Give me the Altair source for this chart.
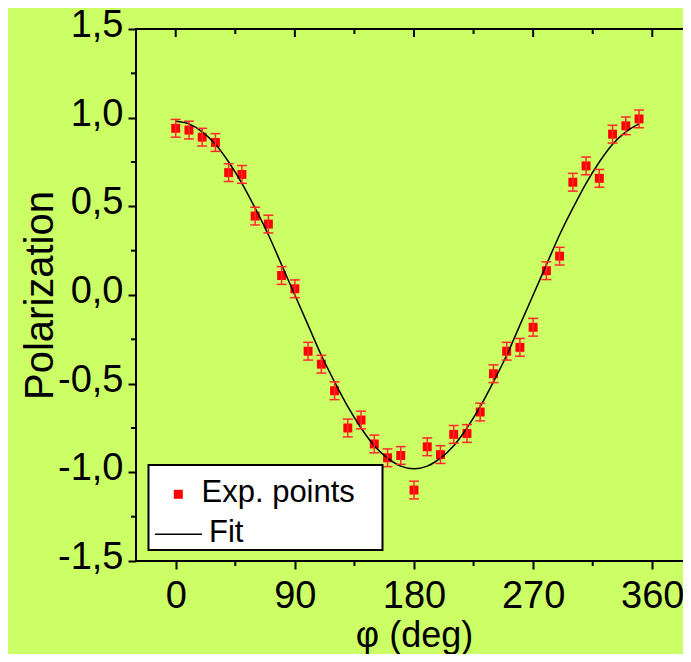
import altair as alt
import pandas as pd

# ---------------- data ----------------
phi = [0, 10, 20, 30, 40, 50, 60, 70, 80, 90, 100, 110, 120, 130, 140, 150, 160, 170,
       180, 190, 200, 210, 220, 230, 240, 250, 260, 270, 280, 290, 300, 310, 320, 330, 340, 350]
pol = [0.94, 0.93, 0.89, 0.86, 0.69, 0.68, 0.445, 0.40, 0.11, 0.035, -0.317, -0.39,
       -0.54, -0.75, -0.705, -0.84, -0.918, -0.905, -1.10, -0.856, -0.90, -0.786,
       -0.781, -0.66, -0.444, -0.317, -0.295, -0.182, 0.137, 0.219, 0.636, 0.728,
       0.658, 0.907, 0.954, 0.993]
err = [0.05, 0.05, 0.05, 0.05, 0.05, 0.05, 0.05, 0.05, 0.05, 0.05, 0.05, 0.05,
       0.05, 0.05, 0.05, 0.05, 0.05, 0.05, 0.05, 0.05, 0.05, 0.05, 0.05, 0.05,
       0.05, 0.05, 0.05, 0.05, 0.05, 0.05, 0.05, 0.05, 0.05, 0.05, 0.05, 0.05]

fit_phi = [0, 10, 20, 30, 40, 50, 60, 70, 80, 90, 100, 110, 120, 130, 140, 150, 160, 170,
           180, 190, 200, 210, 220, 230, 240, 250, 260, 270, 280, 290, 300, 310, 320, 330, 340, 350]
fit_pol = [0.98, 0.965, 0.92, 0.85, 0.75, 0.63, 0.49, 0.34, 0.17, 0.0, -0.17, -0.34,
           -0.49, -0.63, -0.75, -0.85, -0.92, -0.965, -0.98, -0.965, -0.92, -0.85,
           -0.75, -0.63, -0.49, -0.34, -0.17, 0.0, 0.17, 0.34, 0.49, 0.63, 0.75,
           0.85, 0.92, 0.965]

x_major = [0, 90, 180, 270, 360]
x_minor = [45, 135, 225, 315]
y_major = [-1.5, -1.0, -0.5, 0.0, 0.5, 1.0, 1.5]
y_minor = [-1.25, -0.75, -0.25, 0.25, 0.75, 1.25]

legend_labels = ["Exp. points", "Fit"]

# ---------------- layout ----------------
W, H = 556, 532
FONT = "Liberation Sans"
BG = "#CCFF66"

xs = alt.Scale(domain=[-30, 390], nice=False, zero=False)
ys = alt.Scale(domain=[-1.5, 1.5], nice=False, zero=False)

pts = pd.DataFrame({
    "phi": phi,
    "pol": pol,
    "lo": [p - e for p, e in zip(pol, err)],
    "hi": [p + e for p, e in zip(pol, err)],
})
fit = pd.DataFrame({"phi": fit_phi, "pol": fit_pol})
one = pd.DataFrame({"k": [0]})

x_axis = alt.Axis(
    values=x_major, format="d", title="φ (deg)",
    tickSize=8, tickWidth=2, tickColor="black", domain=False, grid=False,
    labelFont=FONT, labelFontSize=38, labelColor="black", labelPadding=8,
    titleFont=FONT, titleFontSize=36, titleFontWeight="normal", titleColor="black",
    titleX=W / 2, titleY=85, titleBaseline="alphabetic", titleAlign="center",
)
y_axis = alt.Axis(
    values=y_major, title="Polarization",
    labelExpr="replace(replace(format(datum.value, '.1f'), '.', ','), '\u2212', '-')",
    tickSize=8, tickWidth=2, tickColor="black", domain=False, grid=False,
    labelFont=FONT, labelFontSize=38, labelColor="black", labelPadding=5, labelOffset=-3.5,
    titleFont=FONT, titleFontSize=40, titleFontWeight="normal", titleColor="black",
    titleX=-84, titleY=H / 2, titleAngle=270, titleBaseline="alphabetic", titleAlign="center",
)


def X(field):
    return alt.X(field + ":Q", scale=xs, axis=x_axis)


def Y(field):
    return alt.Y(field + ":Q", scale=ys, axis=y_axis)


RED = "#FF0000"
BAR = "#FF2A2A"

points = alt.Chart(pts).mark_square(size=80, color=RED, opacity=1).encode(
    x=X("phi"), y=Y("pol"))
bars = alt.Chart(pts).mark_rule(color=BAR, strokeWidth=1.5).encode(
    x=X("phi"), y=Y("lo"), y2="hi:Q")
cap_lo = alt.Chart(pts).mark_tick(orient="horizontal", size=10, thickness=1.5, color=BAR, opacity=1).encode(
    x=X("phi"), y=Y("lo"))
cap_hi = alt.Chart(pts).mark_tick(orient="horizontal", size=10, thickness=1.5, color=BAR, opacity=1).encode(
    x=X("phi"), y=Y("hi"))
fit_line = alt.Chart(fit).mark_line(color="black", strokeWidth=1.5, interpolate="monotone").encode(
    x=X("phi"), y=Y("pol"))


def xticks(vals, y0, y1):
    return alt.Chart(pd.DataFrame({"phi": vals})).mark_rule(color="black", strokeWidth=2).encode(
        x=X("phi"), y=alt.value(y0), y2=alt.value(y1))


def yticks(vals, x0, x1):
    return alt.Chart(pd.DataFrame({"pol": vals})).mark_rule(color="black", strokeWidth=2).encode(
        y=Y("pol"), x=alt.value(x0), x2=alt.value(x1))


tick_layers = [
    xticks(x_minor, H, H + 5),       # bottom minor (outward)
    xticks(x_major, 0, 8),           # top major (inward)
    xticks(x_minor, 0, 5),           # top minor (inward)
    yticks(y_minor, 0, -5),          # left minor (outward)
    yticks(y_major, W, W - 8),       # right major (inward)
    yticks(y_minor, W, W - 5),       # right minor (inward)
]

# legend box
leg_box = alt.Chart(one).mark_rect(fill="white", stroke="black", strokeWidth=2).encode(
    x=alt.value(12.5), x2=alt.value(246.5), y=alt.value(436), y2=alt.value(521))
leg_sq = alt.Chart(one).mark_square(size=81, color=RED, opacity=1).encode(
    x=alt.value(42.3), y=alt.value(465.3))
leg_line = alt.Chart(one).mark_rule(color="black", strokeWidth=1.5).encode(
    x=alt.value(19), x2=alt.value(66), y=alt.value(505.3))
leg_t1 = alt.Chart(one).mark_text(align="left", baseline="alphabetic", font=FONT, fontSize=31, color="black").encode(
    x=alt.value(65.5), y=alt.value(472.7), text=alt.value(legend_labels[0]))
leg_t2 = alt.Chart(one).mark_text(align="left", baseline="alphabetic", font=FONT, fontSize=31, color="black").encode(
    x=alt.value(73), y=alt.value(512.7), text=alt.value(legend_labels[1]))

chart = alt.layer(
    points, fit_line, bars, cap_lo, cap_hi, *tick_layers,
    leg_box, leg_sq, leg_line, leg_t1, leg_t2,
).properties(
    width=W, height=H,
    autosize=alt.AutoSizeParams(type="none"),
    padding={"left": 128, "top": 21, "right": -9, "bottom": 93},
    background=BG,
).configure_view(
    stroke="black", strokeWidth=2, fill=BG,
)

chart.save("out.html", embed_options={"renderer": "svg", "actions": False})
